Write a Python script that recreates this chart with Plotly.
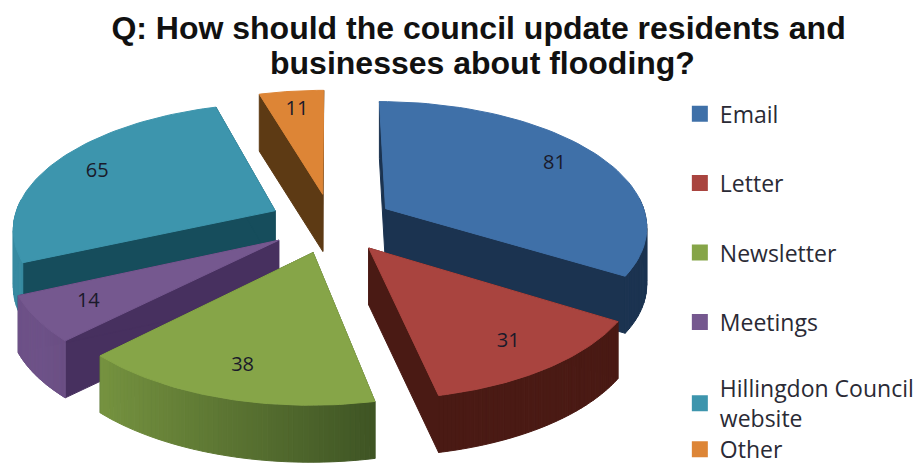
import numpy as np
import plotly.graph_objects as go

# Survey responses
categories = ["Email", "Letter", "Newsletter", "Meetings", "Hillingdon Council<br>website", "Other"]
responses = [81, 31, 38, 14, 65, 11]
top_colors = ["#3f70a8", "#a9443f", "#86a548", "#75588f", "#3d95ad", "#dd8536"]
wall_colors = ["#1b3350", "#4a1a14", "#3f5524", "#47305f", "#164d5c", "#5d3a14"]

TITLE_LINES = ["Q: How should the council update residents and", "businesses about flooding?"]

# Projection of the tilted disc onto the page (units are page pixels)
CX, CY = 331.5, 223.0
RADIUS = 262.0
TILT = 0.475
PERSPECTIVE = 0.13
EXPLODE = 0.24
DEPTH = 57.0
LABEL_FRAC = 0.8


def project(east, north):
    d = 1.0 + PERSPECTIVE * north
    return CX + RADIUS * east / d, CY - RADIUS * TILT * north / d


def polar(theta, r, bisector):
    east = r * np.sin(theta) + EXPLODE * np.sin(bisector)
    north = r * np.cos(theta) + EXPLODE * np.cos(bisector)
    return project(east, north)


def mix(hex_a, hex_b, t):
    a = [int(hex_a[i:i + 2], 16) for i in (1, 3, 5)]
    b = [int(hex_b[i:i + 2], 16) for i in (1, 3, 5)]
    return "rgb({},{},{})".format(*[round(p + (q - p) * t) for p, q in zip(a, b)])


total = sum(responses)
edges = np.cumsum([0] + responses) / total * 2 * np.pi
fig = go.Figure()


def add_poly(xs, ys, colour):
    fig.add_trace(go.Scatter(x=xs, y=ys, mode="lines", fill="toself", fillcolor=colour,
                             line=dict(color=colour, width=1), showlegend=False, hoverinfo="skip"))


# Far slices are painted first so nearer ones overlap them
paint_order = [5, 4, 0, 3, 1, 2]
for i in paint_order:
    start, end = edges[i], edges[i + 1]
    mid = (start + end) / 2
    theta = np.linspace(start, end, 61)
    ax, ay = polar(0, 0, mid)
    rx, ry = polar(theta, 1.0, mid)

    # radial side faces
    for k in (0, -1):
        add_poly([ax, rx[k], rx[k], ax, ax], [ay, ry[k], ry[k] + DEPTH, ay + DEPTH, ay], wall_colors[i])

    # curved outer wall, only where it turns towards the viewer, shaded by its facing
    for k in range(60):
        centre = (theta[k] + theta[k + 1]) / 2
        if np.cos(centre) > 0.1:
            continue
        facing = (1 - np.sin(centre)) / 2
        shade = float(np.clip((facing - 0.4) / 0.5, 0, 1))
        segx = [rx[k], rx[k + 1], rx[k + 1], rx[k], rx[k]]
        segy = [ry[k], ry[k + 1], ry[k + 1] + DEPTH, ry[k] + DEPTH, ry[k]]
        add_poly(segx, segy, mix(wall_colors[i], top_colors[i], 0.85 * shade))

    # top face
    add_poly(np.r_[ax, rx, ax], np.r_[ay, ry, ay], top_colors[i])

# Value labels
lx, ly = [], []
for i in range(len(responses)):
    mid = (edges[i] + edges[i + 1]) / 2
    px, py = polar(mid, LABEL_FRAC, mid)
    lx.append(px)
    ly.append(py)
fig.add_trace(go.Scatter(x=lx, y=ly, mode="text", text=[str(v) for v in responses],
                         textfont=dict(family="Open Sans", size=20, color="#1a1a2a"),
                         showlegend=False, hoverinfo="skip"))

# Legend entries
legend_ids = ["legend", "legend", "legend", "legend", "legend2", "legend3"]
for name, colour, lg in zip(categories, top_colors, legend_ids):
    fig.add_trace(go.Scatter(x=[None], y=[None], mode="markers", name=name, legend=lg, legendgroup=name,
                             marker=dict(symbol="square", size=16, color=colour)))

legend_style = dict(xanchor="left", yanchor="top", x=0.743, bgcolor="rgba(0,0,0,0)", itemwidth=30,
                    font=dict(family="Open Sans", size=23, color="#2a2a35"), traceorder="grouped",
                    itemclick=False, itemdoubleclick=False)
title_font = dict(family="Liberation Sans", size=32, color="#111111", weight="bold")

fig.update_layout(
    width=915, height=466, margin=dict(l=0, r=0, t=0, b=0, autoexpand=False),
    paper_bgcolor="white", plot_bgcolor="white",
    title=dict(text=TITLE_LINES[0], x=0.523, xanchor="center", y=0.94, yanchor="middle",
               font=title_font, automargin=False),
    annotations=[dict(text=TITLE_LINES[1], xref="paper", yref="paper", x=0.527, y=0.865,
                      xanchor="center", yanchor="middle", showarrow=False, font=title_font)],
    xaxis=dict(range=[0, 915], visible=False, fixedrange=True),
    yaxis=dict(range=[466, 0], visible=False, fixedrange=True),
    legend=dict(y=0.802, tracegroupgap=36.5, **legend_style),
    legend2=dict(y=0.213, **legend_style),
    legend3=dict(y=0.082, **legend_style),
)

fig.write_html("out.html")
